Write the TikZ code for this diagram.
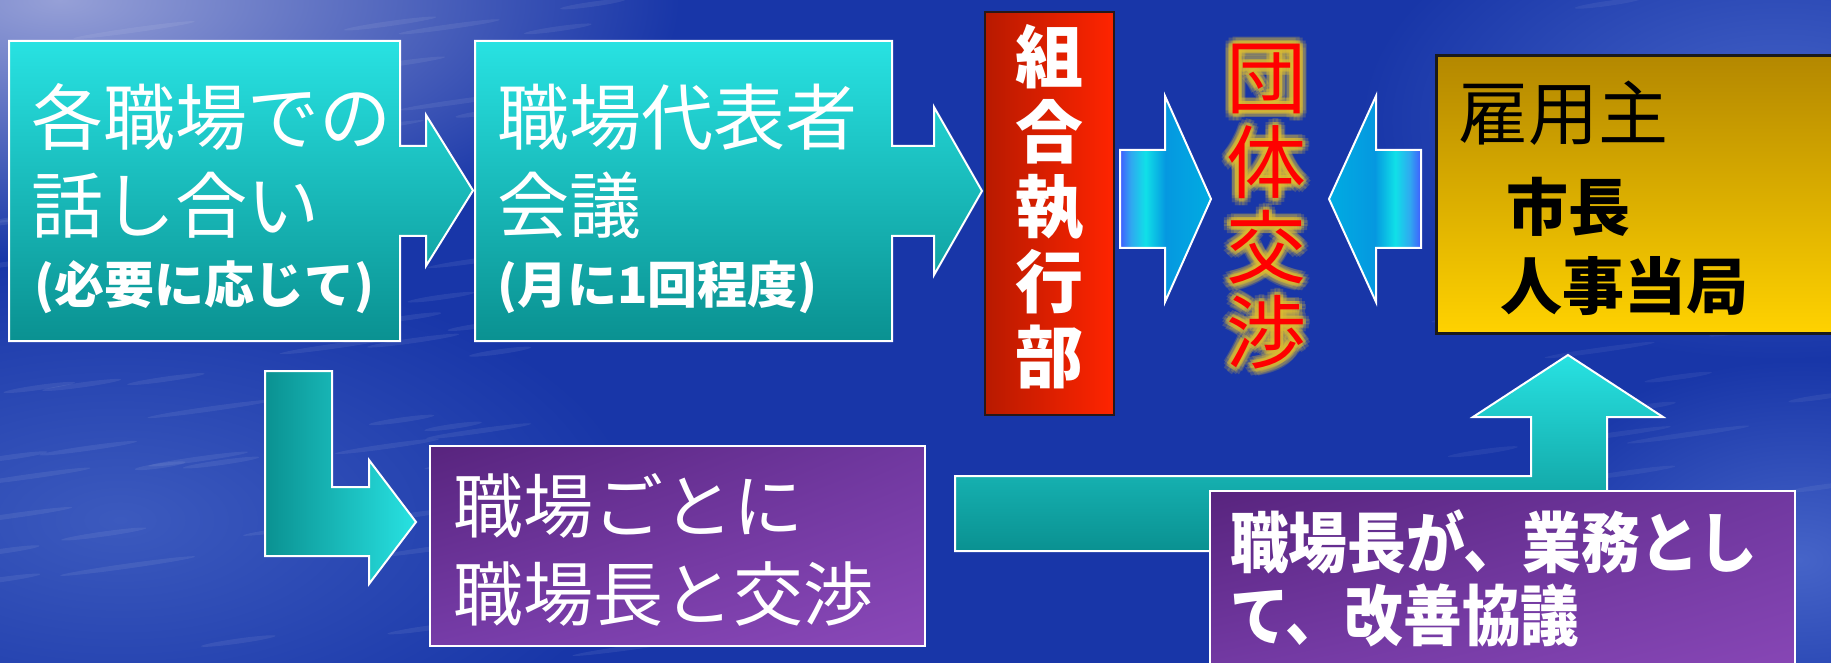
\documentclass[tikz,border=0pt]{standalone}
\usepackage{fontspec}
\usetikzlibrary{shadings}
\newfontfamily\jp{Noto Sans CJK JP}
\newfontfamily\jpc[FakeStretch=0.89]{Noto Sans CJK JP}
\definecolor{bgc}{RGB}{24,54,168}
\definecolor{bgtl}{RGB}{150,160,215}
\definecolor{bgbl}{RGB}{60,90,190}
\definecolor{bgtr}{RGB}{70,100,200}
\definecolor{tealT}{RGB}{40,226,226}
\definecolor{tealB}{RGB}{10,145,145}
\definecolor{purTL}{RGB}{88,36,126}
\definecolor{purTR}{RGB}{112,56,160}
\definecolor{purBL}{RGB}{118,60,168}
\definecolor{purBR}{RGB}{138,72,184}
\definecolor{redL}{RGB}{184,26,0}
\definecolor{redR}{RGB}{255,36,0}
\definecolor{yelT}{RGB}{180,136,0}
\definecolor{yelB}{RGB}{255,210,0}
\definecolor{ba1}{RGB}{64,92,255}
\definecolor{ba2}{RGB}{48,168,240}
\definecolor{ba3}{RGB}{16,224,232}
\definecolor{ba4}{RGB}{5,152,224}
\definecolor{ba5}{RGB}{0,172,226}
\definecolor{glowc}{RGB}{222,190,50}
\pgfdeclarehorizontalshading{blueR}{100bp}{color(0bp)=(ba1); color(25bp)=(ba1); color(31bp)=(ba2); color(39bp)=(ba3); color(50bp)=(ba4); color(75bp)=(ba5); color(100bp)=(ba5)}
\pgfdeclarehorizontalshading{blueL}{100bp}{color(0bp)=(ba5); color(25bp)=(ba5); color(50bp)=(ba4); color(61bp)=(ba3); color(69bp)=(ba2); color(75bp)=(ba1); color(100bp)=(ba1)}
\tikzset{
  wb/.style={draw=white, line width=1pt},
  tx/.style={inner sep=0pt, outer sep=0pt, anchor=base west, text=white},
  bigw/.style={tx, font=\jp\fontsize{36pt}{40pt}\selectfont},
  parw/.style={tx, font=\jp\bfseries\fontsize{25pt}{28pt}\selectfont},
  glow/.style={inner sep=0pt, align=center, text=glowc,
    font=\jp\fontsize{40pt}{42.5pt}\selectfont},
  purbox/.style={wb, upper left=purTL, upper right=purTR, lower left=purBL, lower right=purBR},
}
\begin{document}
\begin{tikzpicture}[x=0.5pt,y=-0.5pt,line join=miter]
\useasboundingbox (0,0) rectangle (1831,663);
% background
\begin{scope}
\clip (0,0) rectangle (1831,663);
\fill[bgc] (0,0) rectangle (1831,663);
\shade[inner color=bgtl, outer color=bgc] (60,0) ellipse [x radius=620, y radius=260];
\shade[inner color=bgbl, outer color=bgc] (120,520) ellipse [x radius=520, y radius=260];
\shade[inner color=bgtr, outer color=bgc] (1780,120) ellipse [x radius=420, y radius=240];
\shade[inner color=bgtr, outer color=bgc] (1800,560) ellipse [x radius=300, y radius=200];
\pgfmathsetseed{11}
\foreach \i in {1,...,70}{
  \pgfmathsetmacro\xx{rnd*650}
  \pgfmathsetmacro\yy{rnd*663}
  \pgfmathsetmacro\ll{25+rnd*45}
  \fill[white, opacity=0.07, rotate around={8:(\xx,\yy)}] (\xx,\yy) ellipse [x radius=\ll, y radius=2.5];
}
\foreach \i in {1,...,35}{
  \pgfmathsetmacro\xx{1450+rnd*400}
  \pgfmathsetmacro\yy{rnd*663}
  \pgfmathsetmacro\ll{25+rnd*40}
  \fill[white, opacity=0.06, rotate around={8:(\xx,\yy)}] (\xx,\yy) ellipse [x radius=\ll, y radius=2.5];
}
\end{scope}

% box 1 with arrow
\draw[wb, top color=tealT, bottom color=tealB]
  (9,41) -- (400,41) -- (400,146) -- (426,146) -- (426,115) -- (473,190.5)
  -- (426,266) -- (426,236) -- (400,236) -- (400,341) -- (9,341) -- cycle;
% box 2 with arrow
\draw[wb, top color=tealT, bottom color=tealB]
  (475,41) -- (892,41) -- (892,146) -- (934,146) -- (934,107) -- (982,191)
  -- (934,275) -- (934,236) -- (892,236) -- (892,341) -- (475,341) -- cycle;

% red box
\draw[draw={rgb,255:red,40;green,24;blue,24}, line width=1.2pt, left color=redL, right color=redR]
  (985,12) rectangle (1114,415);

% blue arrows
\draw[wb, shading=blueR]
  (1120,150) -- (1165,150) -- (1165,96) -- (1211,199) -- (1165,302) -- (1165,248) -- (1120,248) -- cycle;
\draw[wb, shading=blueL]
  (1421,150) -- (1376,150) -- (1376,96) -- (1329,199) -- (1376,302) -- (1376,248) -- (1421,248) -- cycle;

% yellow box
\draw[draw={rgb,255:red,26;green,26;blue,26}, line width=1.5pt, top color=yelT, bottom color=yelB]
  (1436,56) rectangle (1845,333);

% bent arrow down-right
\draw[wb, left color=tealB, right color=tealT]
  (265,371) -- (332,371) -- (332,487) -- (369,487) -- (369,460) -- (416,522)
  -- (369,584) -- (369,556) -- (265,556) -- cycle;

% bent arrow right-up
\draw[wb, top color=tealT, bottom color=tealB]
  (955,476) -- (1531,476) -- (1531,417) -- (1473,417) -- (1568,355) -- (1663,417)
  -- (1607,417) -- (1607,551) -- (955,551) -- cycle;

% purple boxes
\draw[purbox] (430,446) rectangle (925,646);
\draw[purbox] (1210,491) rectangle (1795,690);

% texts box 1
\node[bigw] (b1a) at (32,145) {各職場での};
\node[bigw] (b1b) at (32,233) {話し合い};
\node[parw] (b1c) at (34,303.5) {(必要に応じて)};
% texts box 2
\node[bigw] (b2a) at (497,145) {職場代表者};
\node[bigw] (b2b) at (497,233) {会議};
\node[parw] (b2c) at (497,303.5) {(月に1回程度)};

% red vertical text
\node[inner sep=0pt, align=center, text=white, font=\jp\bfseries\fontsize{34pt}{37.5pt}\selectfont]
  (kumiai) at (1049,207) {組\\合\\執\\行\\部};

% glow + red text
\foreach \a [count=\k] in {0,30,...,330}{
  \node[glow, opacity=0.22, shift={(\a:7)}] (glowo\k) at (1266,207) {団\\体\\交\\渉};
  \node[glow, opacity=0.3, shift={(\a:3.5)}] (glowi\k) at (1266,207) {団\\体\\交\\渉};
}
\node[inner sep=0pt, align=center, text=red, font=\jp\fontsize{40pt}{42.5pt}\selectfont]
  (dantai) at (1266,207) {団\\体\\交\\渉};

% yellow box text
\node[tx, text=black, font=\jp\fontsize{35pt}{38pt}\selectfont] (koyo) at (1458,140) {雇用主};
\node[tx, text=black, font=\jp\bfseries\fontsize{31pt}{34pt}\selectfont] (shicho) at (1506,231) {市長};
\node[tx, text=black, font=\jp\bfseries\fontsize{31pt}{34pt}\selectfont] (jinji) at (1500,309) {人事当局};

% purple box 1 text
\node[tx, font=\jp\fontsize{35pt}{38pt}\selectfont] (p1a) at (453,532) {職場ごとに};
\node[tx, font=\jp\fontsize{35pt}{38pt}\selectfont] (p1b) at (453,620) {職場長と交渉};

% purple box 2 text
\node[tx, font=\jpc\bfseries\fontsize{33pt}{36pt}\selectfont] (p2a) at (1230,567) {職場長が、業務とし};
\node[tx, font=\jpc\bfseries\fontsize{33pt}{36pt}\selectfont] (p2b) at (1230,640) {て、改善協議};
\end{tikzpicture}
\end{document}
